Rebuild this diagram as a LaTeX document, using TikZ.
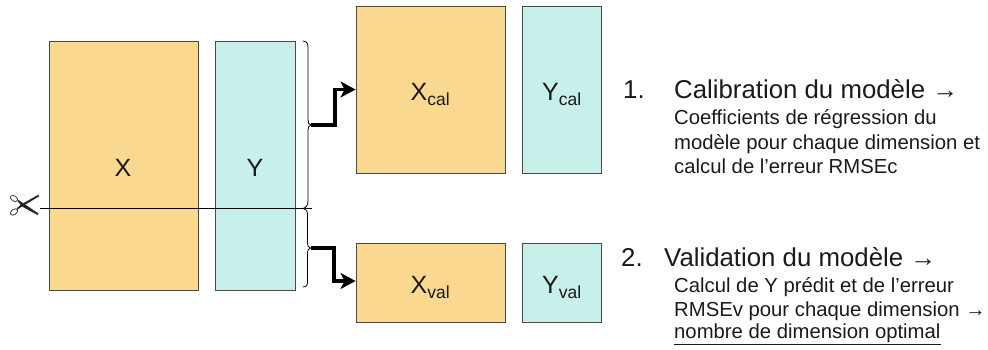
\documentclass[tikz,border=0pt]{standalone}
\usepackage{fontspec}
\setmainfont{Liberation Sans}
\usetikzlibrary{arrows.meta}
\definecolor{xfill}{HTML}{FBD88F}
\definecolor{yfill}{HTML}{C6F0E9}
\definecolor{edge}{HTML}{4A4A4A}
\definecolor{ink}{HTML}{1A1A1A}
\newcommand{\bigtxt}{\fontsize{25}{25}\selectfont}
\newcommand{\subtxt}[1]{\raisebox{-5.5pt}{\fontsize{17.5}{17.5}\selectfont #1}}
\tikzset{
  mat/.style={draw=edge,line width=0.9pt,minimum width=0pt,inner sep=0pt,text=ink,font=\bigtxt},
  xmat/.style={mat,fill=xfill},
  ymat/.style={mat,fill=yfill},
  head/.style={anchor=base west,inner sep=0pt,text=ink,font=\fontsize{25.8}{25.8}\selectfont},
  body/.style={anchor=base west,inner sep=0pt,text=ink,font=\fontsize{20.3}{20.3}\selectfont},
  brace/.style={draw=black,line width=0.8pt},
  flow/.style={draw=black,line width=3.6pt,-{Stealth[length=15pt,width=16pt,inset=4pt]}},
  cut/.style={draw=black,line width=1pt},
  blade/.style={fill=black!85,draw=none},
  loopring/.style={draw=black!70,line width=0.9pt,fill=white}
}
\begin{document}
\begin{tikzpicture}[x=1pt,y=-1pt]
\useasboundingbox (0,0) rectangle (988,349);
% matrices
\node[xmat,minimum width=149pt,minimum height=249pt] (X) at (123.5,165.5) {};
\node[ymat,minimum width=80pt,minimum height=249pt] (Y) at (255,165.5) {};
\node[xmat,minimum width=149pt,minimum height=167pt] (Xcal) at (430.5,89.5) {};
\node[ymat,minimum width=79pt,minimum height=167pt] (Ycal) at (561.5,89.5) {};
\node[xmat,minimum width=149pt,minimum height=79pt] (Xval) at (430.5,282.5) {};
\node[ymat,minimum width=79pt,minimum height=79pt] (Yval) at (561.5,282.5) {};
% matrix labels
\node[inner sep=0pt,text=ink,font=\bigtxt] (lX) at (123,168) {X};
\node[inner sep=0pt,text=ink,font=\bigtxt] (lY) at (255,168) {Y};
\node[inner sep=0pt,text=ink,font=\bigtxt,anchor=base west] (lXc) at (410.5,100) {X\subtxt{cal}};
\node[inner sep=0pt,text=ink,font=\bigtxt,anchor=base west] (lYc) at (542,100) {Y\subtxt{cal}};
\node[inner sep=0pt,text=ink,font=\bigtxt,anchor=base west] (lXv) at (410.5,293) {X\subtxt{val}};
\node[inner sep=0pt,text=ink,font=\bigtxt,anchor=base west] (lYv) at (542,293) {Y\subtxt{val}};
% braces
\coordinate (tipA) at (311,125);
\coordinate (tipB) at (310.5,248);
\draw[brace] (303,41) .. controls (306.5,41.5) and (308,43) .. (308,47)
  -- (308,120) .. controls (308,123) and (309,124.5) .. (tipA)
  .. controls (309,125.5) and (308,127) .. (308,130)
  -- (308,201) .. controls (308,205) and (306.5,207.5) .. (303,208.5)
  .. controls (306.5,209.5) and (307.5,211) .. (307.5,215)
  -- (307.5,243) .. controls (307.5,246) and (308.5,247.5) .. (tipB)
  .. controls (308.5,248.5) and (307.5,250) .. (307.5,253)
  -- (307.5,282) .. controls (307.5,285.5) and (306.5,286.5) .. (303,287);
% flows
\draw[flow] (tipA) -- (335,125) |- (Xcal.west);
\draw[flow] (tipB) -- (334,248) |- ([yshift=1.5pt]Xval.west);
% cut line
\coordinate (cutL) at (40,208.5);
\coordinate (cutR) at (312,208.5);
\draw[cut] (cutL) -- (cutR);
% scissors
\draw[loopring,rotate around={-35:(14,198.5)}] (14,198.5) ellipse (4pt and 2.6pt);
\draw[loopring,rotate around={35:(14,212)}] (14,212) ellipse (4pt and 2.6pt);
\fill[blade] (38.5,194.6) -- (39,196.4) -- (22,206.5) -- (17.5,209.5) -- (16.5,208.5) -- (21,204.5) -- cycle;
\fill[blade] (38.5,213.5) -- (37.5,215) -- (22,206.5) -- (17.5,201) -- (18.5,200) -- (23,203) -- cycle;
% text block 1
\node[head] (n1) at (623,98) {1.};
\node[head] (h1) at (674,98) {Calibration du modèle →};
\node[body] (b1a) at (674,124.5) {Coefficients de régression du};
\node[body] (b1b) at (674,149) {modèle pour chaque dimension et};
\node[body] (b1c) at (674,173.5) {calcul de l’erreur RMSEc};
% text block 2
\node[head] (n2) at (621,266) {2.};
\node[head] (h2) at (664,266) {Validation du modèle →};
\node[body] (b2a) at (674,292) {Calcul de Y prédit et de l’erreur};
\node[body] (b2b) at (674,316.5) {RMSEv pour chaque dimension →};
\node[body] (b2c) at (674,338.5) {\underline{nombre de dimension optimal}};
\end{tikzpicture}
\end{document}
